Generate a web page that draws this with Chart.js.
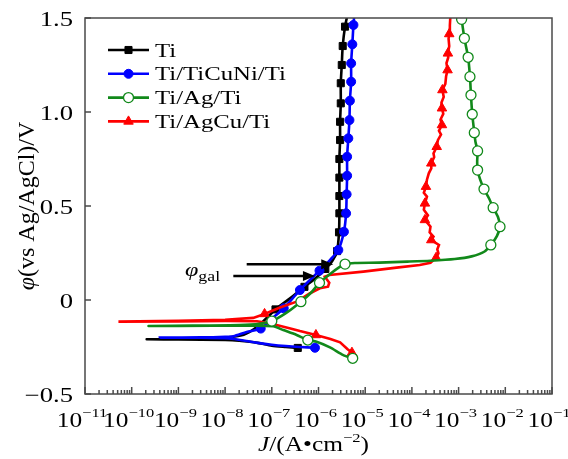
<!DOCTYPE html>
<html>
<head>
<meta charset="utf-8">
<script src="https://cdn.jsdelivr.net/npm/chart.js@4.4.1/dist/chart.umd.min.js"></script>
<style>
  html, body { margin: 0; padding: 0; background: #fff; }
  #wrap { width: 568px; height: 459px; }
</style>
</head>
<body>
<div id="wrap"><canvas id="polChart" width="568" height="459"></canvas></div>
<script>
'use strict';

const seriesNames = ['Ti', 'Ti/TiCuNi/Ti', 'Ti/Ag/Ti', 'Ti/AgCu/Ti'];

// axis ticks
const xTickExps = [-11, -10, -9, -8, -7, -6, -5, -4, -3, -2, -1];
const yTicks = [-0.5, 0, 0.5, 1.0, 1.5];
const yTickLabels = ['\u22120.5', '0', '0.5', '1.0', '1.5'];

// Ti (scan order: cathodic end -> Ecorr -> anodic)
const tiJ = [3.6e-7, 2e-7, 1e-7, 5e-8, 2e-8, 1e-8, 1e-9, 2.1e-10, 2e-9, 1e-8, 2.5e-8, 5e-8,
  1.2e-7, 2.5e-7, 5e-7, 9e-7, 1.4e-6, 2e-6, 2.5e-6, 2.75e-6, 2.8e-6, 2.8e-6, 2.8e-6, 2.8e-6,
  2.9e-6, 2.9e-6, 3.0e-6, 3.0e-6, 3.15e-6, 3.3e-6, 3.7e-6, 4.2e-6];
const tiE = [-0.255, -0.25, -0.243, -0.228, -0.217, -0.213, -0.210, -0.209, -0.207, -0.200, -0.185, -0.14,
  -0.05, 0.01, 0.07, 0.12, 0.165, 0.21, 0.26, 0.36, 0.461, 0.553, 0.651, 0.750,
  0.851, 0.948, 1.046, 1.153, 1.250, 1.351, 1.454, 1.52];
const tiMarks = [0, 12, 14, 16, 18, 19, 20, 21, 22, 23, 24, 25, 26, 27, 28, 29, 30];

// Ti/TiCuNi/Ti
const tcnJ = [8.4e-7, 4e-7, 2e-7, 1e-7, 5e-8, 2.5e-8, 1.2e-8, 3e-9, 4e-10, 3e-9, 1e-8, 1.5e-8,
  2.9e-8, 5.8e-8, 1e-7, 1.8e-7, 4e-7, 1.05e-6, 1.8e-6, 2.66e-6, 3.5e-6, 3.9e-6, 4.0e-6, 4.1e-6,
  4.1e-6, 4.35e-6, 4.6e-6, 4.7e-6, 5.0e-6, 5.0e-6, 5.3e-6, 5.6e-6, 5.9e-6];
const tcnE = [-0.254, -0.25, -0.245, -0.238, -0.228, -0.215, -0.205, -0.201, -0.200, -0.199, -0.196, -0.193,
  -0.170, -0.152, -0.10, -0.044, 0.053, 0.156, 0.215, 0.266, 0.363, 0.461, 0.562, 0.661,
  0.762, 0.860, 0.957, 1.060, 1.161, 1.259, 1.360, 1.463, 1.53];
const tcnMarks = [0, 13, 15, 16, 17, 19, 20, 21, 22, 23, 24, 25, 26, 27, 28, 29, 30, 31];

// Ti/Ag/Ti
const agJ = [5.4e-6, 3.4e-6, 1.76e-6, 9.1e-7, 5.9e-7, 3.4e-7, 1.76e-7, 1.07e-7, 3e-8, 1e-9, 2.3e-10, 2e-9,
  2e-8, 5.5e-8, 1e-7, 2e-7, 4.2e-7, 7e-7, 1.05e-6, 1.8e-6, 2.8e-6, 3.7e-6, 6e-6, 2e-5,
  8e-5, 2.5e-4, 8.3e-4, 1.9e-3, 3.6e-3, 4.9e-3, 6.6e-3, 7.7e-3, 7.0e-3, 5.5e-3, 4.5e-3, 3.5e-3,
  2.9e-3, 2.55e-3, 2.5e-3, 2.55e-3, 2.3e-3, 2.17e-3, 1.96e-3, 1.84e-3, 1.75e-3, 1.6e-3, 1.33e-3, 1.16e-3,
  1.1e-3];
const agE = [-0.31, -0.293, -0.252, -0.222, -0.213, -0.186, -0.16, -0.14, -0.137, -0.138, -0.138, -0.136,
  -0.133, -0.126, -0.112, -0.07, -0.009, 0.04, 0.092, 0.14, 0.175, 0.191, 0.197, 0.199,
  0.204, 0.209, 0.218, 0.232, 0.258, 0.293, 0.34, 0.39, 0.44, 0.491, 0.54, 0.59,
  0.64, 0.691, 0.74, 0.793, 0.84, 0.89, 0.988, 1.09, 1.188, 1.291, 1.392, 1.493,
  1.53];
const agMarks = [0, 4, 14, 16, 18, 21, 29, 31, 33, 35, 37, 39, 41, 42, 43, 44, 45, 46, 47];

// Ti/AgCu/Ti
const agcuJ = [5.2e-6, 4.2e-6, 2.9e-6, 1.8e-6, 8.8e-7, 4e-7, 2.5e-7, 9e-8, 4.8e-8, 1e-8, 1e-9, 5.2e-11,
  1e-9, 1e-8, 4e-8, 7e-8, 1.5e-7, 3.4e-7, 6.6e-7, 1.07e-6, 1.6e-6, 1.7e-6, 1.5e-6, 1.37e-6,
  1.7e-6, 9.1e-6, 4.7e-5, 1.47e-4, 2.5e-4, 3.3e-4, 3.7e-4, 3.5e-4, 3.8e-4, 2.6e-4, 2.9e-4, 2.4e-4,
  2.5e-4, 1.9e-4, 2.2e-4, 1.8e-4, 1.9e-4, 2.1e-4, 1.8e-4, 2.0e-4, 2.1e-4, 2.3e-4, 2.6e-4, 2.6e-4,
  3.0e-4, 2.9e-4, 3.4e-4, 3.6e-4, 4.2e-4, 3.8e-4, 4.4e-4, 4.1e-4, 4.7e-4, 4.4e-4, 4.3e-4, 4.8e-4,
  4.5e-4, 5.2e-4, 5.4e-4, 5.8e-4, 5.5e-4, 6.0e-4, 5.9e-4, 6.3e-4, 6.1e-4, 6.3e-4, 6.5e-4, 6.7e-4];
const agcuE = [-0.28, -0.262, -0.225, -0.207, -0.186, -0.165, -0.151, -0.124, -0.113, -0.112, -0.114, -0.115,
  -0.111, -0.105, -0.095, -0.074, -0.04, -0.009, 0.036, 0.062, 0.071, 0.092, 0.110, 0.124,
  0.133, 0.151, 0.172, 0.186, 0.198, 0.225, 0.248, 0.27, 0.293, 0.319, 0.337, 0.36,
  0.39, 0.426, 0.45, 0.48, 0.514, 0.55, 0.57, 0.603, 0.64, 0.674, 0.70, 0.727,
  0.76, 0.78, 0.815, 0.85, 0.88, 0.90, 0.931, 0.96, 0.99, 1.02, 1.05, 1.08,
  1.117, 1.15, 1.19, 1.223, 1.26, 1.29, 1.312, 1.35, 1.39, 1.415, 1.46, 1.52];
const agcuMarks = [0, 4, 15, 29, 33, 37, 40, 43, 47, 50, 54, 57, 60, 63, 66, 69];

// phi_gal arrows (data units)
const galFromJ = [2.9e-8, 1.5e-8];
const galToJ = [2.07e-6, 8.4e-7];
const galE = [0.19, 0.128];

const FONT = '"Liberation Serif", "DejaVu Serif", serif';
const SX = 1.27; // the printed figure is a bit wider than tall in its lettering

const styles = [
  { color: '#000000', pointStyle: 'rect', radius: 5, fill: '#000000', border: 1 },
  { color: '#0000ff', pointStyle: 'circle', radius: 4.5, fill: '#0000ff', border: 1 },
  { color: '#11891a', pointStyle: 'circle', radius: 5, fill: '#ffffff', border: 1.3 },
  { color: '#ff0000', pointStyle: 'triangle', radius: 5.5, fill: '#ff0000', border: 1 }
];

const toPoints = (js, es) => js.map((j, i) => ({ x: j, y: es[i] }));
const curves = [
  toPoints(tiJ, tiE),
  toPoints(tcnJ, tcnE),
  toPoints(agJ, agE),
  toPoints(agcuJ, agcuE)
];
const markIdx = [tiMarks, tcnMarks, agMarks, agcuMarks];
// drawing order: green on top, then red, blue, black
const layer = [7, 5, 1, 3];

const datasets = [];
curves.forEach((pts, s) => {
  const st = styles[s];
  datasets.push({
    label: seriesNames[s],
    data: pts,
    showLine: true,
    borderColor: st.color,
    borderWidth: 2.6,
    pointRadius: 0,
    tension: s === 3 ? 0 : 0.25,
    order: layer[s] + 1
  });
  datasets.push({
    label: seriesNames[s] + ' markers',
    data: markIdx[s].map((i) => pts[i]),
    showLine: false,
    pointStyle: st.pointStyle,
    pointRadius: st.radius,
    pointBackgroundColor: st.fill,
    pointBorderColor: st.color,
    pointBorderWidth: st.border,
    order: layer[s]
  });
});

// rich text runs: [{t, f, dy}], drawn stretched horizontally by SX
function runsWidth(ctx, runs) {
  let w = 0;
  runs.forEach((r) => { ctx.font = r.f; r.w = ctx.measureText(r.t).width * SX; w += r.w; });
  return w;
}
function drawRuns(ctx, runs, x, y) {
  let cx = x;
  runs.forEach((r) => {
    ctx.save();
    ctx.font = r.f;
    ctx.translate(cx, y + (r.dy || 0));
    ctx.scale(SX, 1);
    ctx.fillText(r.t, 0, 0);
    ctx.restore();
    cx += r.w;
  });
}

const decorPlugin = {
  id: 'decor',
  afterDatasetsDraw(chart) {
    const { ctx, chartArea: a } = chart;
    const { x, y } = chart.scales;
    ctx.save();

    // frame
    ctx.strokeStyle = '#4a4a4a';
    ctx.lineWidth = 1.5;
    ctx.strokeRect(a.left, a.top, a.right - a.left, a.bottom - a.top);

    // inward ticks
    ctx.beginPath();
    xTickExps.forEach((e) => {
      const px = x.getPixelForValue(Math.pow(10, e));
      ctx.moveTo(px, a.bottom);
      ctx.lineTo(px, a.bottom - 7);
      if (e < -1) {
        for (let k = 2; k < 10; k++) {
          const mx = x.getPixelForValue(k * Math.pow(10, e));
          ctx.moveTo(mx, a.bottom);
          ctx.lineTo(mx, a.bottom - 4);
        }
      }
    });
    yTicks.forEach((v) => {
      const py = y.getPixelForValue(v);
      ctx.moveTo(a.left, py);
      ctx.lineTo(a.left + 6, py);
    });
    ctx.stroke();

    ctx.fillStyle = '#000';
    ctx.textAlign = 'left';
    ctx.textBaseline = 'alphabetic';

    // y tick labels
    yTicks.forEach((v, i) => {
      const runs = [{ t: yTickLabels[i], f: `21px ${FONT}` }];
      const w = runsWidth(ctx, runs);
      drawRuns(ctx, runs, a.left - 12 - w, y.getPixelForValue(v) + 7.5);
    });

    // x tick labels 10^n
    xTickExps.forEach((e) => {
      const px = x.getPixelForValue(Math.pow(10, e));
      const runs = [
        { t: '10', f: `20px ${FONT}` },
        { t: '\u2212' + Math.abs(e), f: `13px ${FONT}`, dy: -10 }
      ];
      const w = runsWidth(ctx, runs);
      drawRuns(ctx, runs, px - w / 2 - 3, a.bottom + 33);
    });

    // x title J/(A•cm^-2)
    const tRuns = [
      { t: 'J', f: `italic 20px ${FONT}` },
      { t: '/(A\u2022cm', f: `20px ${FONT}` },
      { t: '\u22122', f: `13px ${FONT}`, dy: -9 },
      { t: ')', f: `20px ${FONT}` }
    ];
    const tw = runsWidth(ctx, tRuns);
    drawRuns(ctx, tRuns, (a.left + a.right) / 2 - tw / 2 - 5, a.bottom + 57);

    // y title
    ctx.save();
    ctx.translate(34, (a.top + a.bottom) / 2);
    ctx.rotate(-Math.PI / 2);
    const yParts = [
      { t: '\u03c6', f: `italic 24px ${FONT}` },
      { t: '(vs Ag/AgCl)/V', f: `24px ${FONT}` }
    ];
    let ytot = 0;
    yParts.forEach((p) => { ctx.font = p.f; p.w = ctx.measureText(p.t).width; ytot += p.w; });
    let yx = -ytot / 2;
    yParts.forEach((p) => {
      ctx.font = p.f;
      ctx.fillText(p.t, yx, 0);
      yx += p.w;
    });
    ctx.restore();

    // phi_gal arrows
    ctx.strokeStyle = '#000';
    ctx.lineWidth = 2.5;
    galE.forEach((e, i) => {
      const py = y.getPixelForValue(e);
      const x1 = x.getPixelForValue(galFromJ[i]);
      const x2 = x.getPixelForValue(galToJ[i]);
      ctx.beginPath();
      ctx.moveTo(x1, py);
      ctx.lineTo(x2 - 8, py);
      ctx.stroke();
      ctx.beginPath();
      ctx.moveTo(x2, py);
      ctx.lineTo(x2 - 12, py - 5);
      ctx.lineTo(x2 - 12, py + 5);
      ctx.closePath();
      ctx.fill();
    });
    const gRuns = [
      { t: '\u03c6', f: `italic 19px ${FONT}` },
      { t: 'gal', f: `14px ${FONT}`, dy: 5 }
    ];
    runsWidth(ctx, gRuns);
    drawRuns(ctx, gRuns, 185, 276);

    // legend
    const lx1 = 108;
    const lx2 = 149;
    seriesNames.forEach((name, i) => {
      const st = styles[i];
      const ly = 50 + i * 23.8;
      ctx.strokeStyle = st.color;
      ctx.lineWidth = 2.6;
      ctx.beginPath();
      ctx.moveTo(lx1, ly);
      ctx.lineTo(lx2, ly);
      ctx.stroke();
      ctx.fillStyle = st.fill;
      ctx.lineWidth = st.border;
      Chart.helpers.drawPoint(ctx, {
        pointStyle: st.pointStyle, radius: st.radius, rotation: 0, borderWidth: st.border
      }, (lx1 + lx2) / 2, ly);
      ctx.fillStyle = '#000';
      const lRuns = [{ t: name, f: `19.5px ${FONT}` }];
      runsWidth(ctx, lRuns);
      drawRuns(ctx, lRuns, 155, ly + 6.5);
    });

    ctx.restore();
  }
};

// eslint-disable-next-line no-new
new Chart(document.getElementById('polChart'), {
  type: 'scatter',
  data: { datasets },
  options: {
    responsive: false,
    animation: false,
    devicePixelRatio: 1,
    layout: { padding: { left: 85, top: 18, right: 16, bottom: 65 } },
    plugins: { legend: { display: false }, tooltip: { enabled: false } },
    scales: {
      x: { type: 'logarithmic', min: 1e-11, max: 1e-1, display: false },
      y: { type: 'linear', min: -0.5, max: 1.5, display: false }
    }
  },
  plugins: [decorPlugin]
});
</script>
</body>
</html>
